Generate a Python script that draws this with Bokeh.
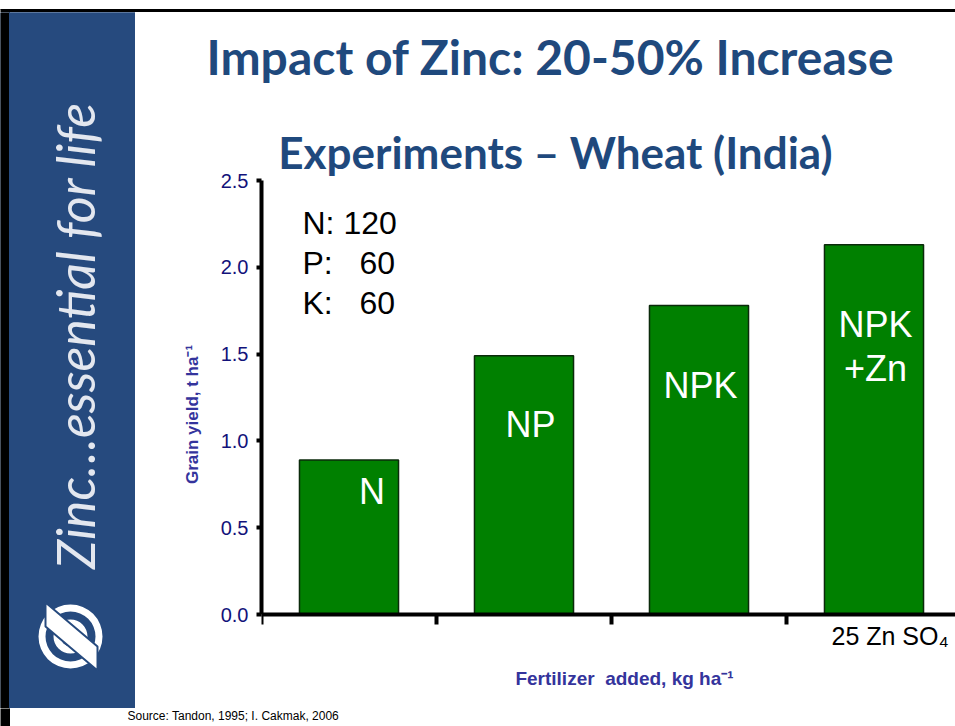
import math
from bokeh.plotting import figure
from bokeh.layouts import row, column
from bokeh.models import (ColumnDataSource, Range1d, FixedTicker,
                          PrintfTickFormatter)
from bokeh.core.properties import value
from bokeh.embed import file_html
from bokeh.resources import INLINE

# ---- data -------------------------------------------------------------
categories = ["N", "NP", "NPK", "NPK+Zn"]
grain_yield = [0.89, 1.49, 1.78, 2.13]
bar_label_lines = [["N"], ["NP"], ["NPK"], ["NPK", "+Zn"]]
y_ticks = [0.0, 0.5, 1.0, 1.5, 2.0, 2.5]
x_ticks = [0, 1, 2, 3]
nutrient_lines = ["N: 120", "P:\u00a0\u00a0\u00a060", "K:\u00a0\u00a0\u00a060"]
title_text = "Impact of Zinc: 20-50% Increase"
subtitle_text = "Experiments \u2013 Wheat (India)"
y_label = "Grain yield, t ha\u207b\u00b9"
x_label = "Fertilizer\u00a0\u00a0added, kg ha\u207b\u00b9"
zn_note = "25 Zn SO\u2084"
source_text = "Source: Tandon, 1995; I. Cakmak, 2006"
brand_text = "Zinc\u2026essential for life"

# ---- geometry (page pixels) ---------------------------------------------
PAGE_W, PAGE_H = 955, 726
SIDE_W = 135
TOP_H, HEAD_H, SRC_H = 12, 108, 18
MAIN_W = PAGE_W - SIDE_W
MAIN_TOP = TOP_H + HEAD_H
MAIN_BOT = PAGE_H - SRC_H
MAIN_H = MAIN_BOT - MAIN_TOP
AXIS_X = 261          # page x of the y axis
ZERO_Y = 614          # page y of value 0
CAT_PX = 175.0        # pixels per category
VAL_PX = 173.6        # pixels per t/ha
BASE_SHIFT = 0.38     # svg baseline correction (fraction of font size)
BLEED = 6             # decorative fills overrun their figure edges

BLUE = "#264a7e"
TITLE_BLUE = "#1f497d"
LABEL_BLUE = "#34349c"


def px_base(baseline, fs):
    return baseline - BASE_SHIFT * fs


def data_base(baseline, fs):
    return (ZERO_Y - px_base(baseline, fs)) / VAL_PX


def data_x(px):
    return (px - AXIS_X) / CAT_PX


def deco_fig(w, h, x0, x1, y0, y1, fill="white"):
    f = figure(width=w, height=h, output_backend="svg", toolbar_location=None,
               title=None,
               x_range=Range1d(x0, x1), y_range=Range1d(y1, y0),
               x_axis_location=None, y_axis_location=None,
               min_border=0, min_border_left=0, min_border_right=0,
               min_border_top=0, min_border_bottom=0)
    f.outline_line_color = None
    f.xgrid.visible = False
    f.ygrid.visible = False
    f.background_fill_color = fill
    f.border_fill_color = fill
    return f


# ---- top border strip ---------------------------------------------------
top_fig = deco_fig(PAGE_W, TOP_H, 0, PAGE_W, 0, TOP_H)
top_fig.quad(left=[-BLEED], right=[PAGE_W + BLEED], top=[9], bottom=[TOP_H + BLEED],
             color="black")

# ---- sidebar (full height) ----------------------------------------------
side_fig = deco_fig(SIDE_W, MAIN_BOT - TOP_H, 0, SIDE_W, TOP_H, MAIN_BOT, fill=BLUE)
side_fig.quad(left=[-BLEED], right=[9], top=[TOP_H - BLEED], bottom=[MAIN_BOT + BLEED],
              color="black")
side_fig.quad(left=[9], right=[SIDE_W + BLEED], top=[TOP_H - BLEED],
              bottom=[MAIN_BOT + BLEED], color=BLUE)
side_fig.text(x=[74], y=[335], text=[brand_text], angle=math.pi / 2,
              text_align="center", text_baseline="middle",
              text_font=value("Lato"), text_font_style="italic",
              text_font_size="52px", text_color="#e3e7ef")
# logo
cx, cy = 70, 636
side_fig.annulus(x=[cx], y=[cy], inner_radius=25, outer_radius=32,
                 fill_color="white", line_color=None)
side_fig.annulus(x=[cx], y=[cy], inner_radius=10, outer_radius=17,
                 fill_color="white", line_color=None)
side_fig.patch(x=[cx - 25, cx - 25, cx + 27, cx + 27],
               y=[cy - 34, cy - 10, cy + 34, cy + 10],
               fill_color="white", line_color=BLUE, line_width=2)

# ---- header: main title -------------------------------------------------
head_fig = deco_fig(MAIN_W, HEAD_H, SIDE_W, PAGE_W, TOP_H, MAIN_TOP)
head_fig.text(x=[550], y=[px_base(74, 48)], text=[title_text], text_align="center",
              text_baseline="alphabetic", text_font=value("Lato"),
              text_font_style="bold", text_font_size="48px",
              text_color=TITLE_BLUE)

# ---- main chart ---------------------------------------------------------
x_end = (PAGE_W - AXIS_X) / CAT_PX
y_start = -(MAIN_BOT - ZERO_Y) / VAL_PX
y_end = (ZERO_Y - MAIN_TOP) / VAL_PX
p = figure(width=MAIN_W, height=MAIN_H, output_backend="svg", toolbar_location=None,
           title=None,
           x_range=Range1d(0, x_end), y_range=Range1d(y_start, y_end),
           min_border_left=AXIS_X - SIDE_W, min_border_right=0,
           min_border_top=0, min_border_bottom=0)
p.outline_line_color = None
p.xgrid.visible = False
p.ygrid.visible = False
p.background_fill_color = "white"
p.border_fill_color = "white"

xs = [i + 0.5 for i in range(len(categories))]
src = ColumnDataSource(dict(x=xs, top=grain_yield, cat=categories))
p.vbar(x="x", top="top", width=0.566, bottom=0, source=src,
       fill_color="#008000", line_color="#0b2a0b", line_width=1.5)

# labels inside bars: centre x (page px) and first baseline (page px)
lab_px = [371.5, 530, 700, 875]
lab_base = [505, 438, 399, 338]
LAB_FS = 36
rows_x, rows_y, rows_t = [], [], []
for lx, lb, lines in zip(lab_px, lab_base, bar_label_lines):
    for k, part in enumerate(lines):
        rows_x.append(data_x(lx))
        rows_y.append(data_base(lb + k * 44, LAB_FS))
        rows_t.append(part)
p.text(x=rows_x, y=rows_y, text=rows_t, text_color="white",
       text_font=value("Liberation Sans"), text_font_size=f"{LAB_FS}px",
       text_align="center", text_baseline="alphabetic")

# fertiliser rates
rate_base = [235, 275, 315]
p.text(x=[data_x(302)] * 3, y=[data_base(b, 32) for b in rate_base], text=nutrient_lines,
       text_color="black", text_font=value("Liberation Sans"),
       text_font_size="32px", text_align="left", text_baseline="alphabetic")

# subtitle, Zn note, x label (inside frame)
p.text(x=[data_x(555)], y=[data_base(168, 44)], text=[subtitle_text],
       text_align="center", text_baseline="alphabetic", text_font=value("Lato"),
       text_font_style="bold", text_font_size="44px", text_color=TITLE_BLUE)
p.text(x=[data_x(831)], y=[data_base(645, 25)], text=[zn_note],
       text_align="left", text_baseline="alphabetic",
       text_font=value("Liberation Sans"), text_font_size="25px", text_color="black")
p.text(x=[data_x(624)], y=[data_base(685, 19)], text=[x_label],
       text_align="center", text_baseline="alphabetic",
       text_font=value("Liberation Sans"), text_font_style="bold",
       text_font_size="19px", text_color=LABEL_BLUE)

# axes
yax = p.yaxis[0]
yax.ticker = FixedTicker(ticks=y_ticks)
yax.bounds = (0, 2.5)
yax.formatter = PrintfTickFormatter(format="%.1f")
yax.axis_line_width = 4
yax.axis_line_color = "black"
yax.major_tick_line_width = 4
yax.major_tick_out = 5
yax.major_tick_in = 0
yax.minor_tick_line_color = None
yax.major_label_text_font = "Liberation Sans"
yax.major_label_text_font_size = "20px"
yax.major_label_text_color = "#12127a"
yax.major_label_standoff = 8
yax.axis_label = y_label
yax.axis_label_text_font = "Liberation Sans"
yax.axis_label_text_font_style = "bold"
yax.axis_label_text_font_size = "17px"
yax.axis_label_text_color = LABEL_BLUE
yax.axis_label_standoff = 16

xax = p.xaxis[0]
xax.fixed_location = 0
xax.bounds = (0, x_end)
xax.ticker = FixedTicker(ticks=x_ticks)
xax.major_label_overrides = {t: "" for t in x_ticks}
xax.axis_line_width = 4
xax.axis_line_color = "black"
xax.major_tick_line_width = 4
xax.major_tick_out = 10
xax.major_tick_in = 0
xax.minor_tick_line_color = None

# ---- source strip -------------------------------------------------------
src_fig = deco_fig(PAGE_W, SRC_H, 0, PAGE_W, MAIN_BOT, PAGE_H)
src_fig.quad(left=[-BLEED], right=[9], top=[MAIN_BOT - BLEED], bottom=[PAGE_H + BLEED],
             color="black")
src_fig.text(x=[127], y=[px_base(720, 12)], text=[source_text], text_align="left",
             text_baseline="alphabetic", text_font=value("Liberation Sans"),
             text_font_size="12px", text_color="black")

layout = column(top_fig,
                row(side_fig, column(head_fig, row(p, spacing=0), spacing=0), spacing=0),
                src_fig, spacing=0)

open("out.html", "w").write(file_html(layout, INLINE))
